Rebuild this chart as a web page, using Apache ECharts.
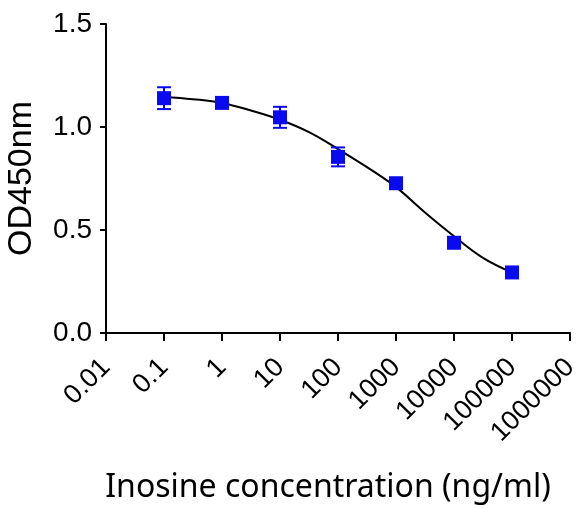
<!DOCTYPE html>
<html>
<head>
<meta charset="utf-8">
<script src="https://cdn.jsdelivr.net/npm/echarts@6/dist/echarts.min.js"></script>
<style>
  html, body { margin: 0; padding: 0; background: #fff; }
  #chart { width: 583px; height: 508px; }
</style>
</head>
<body>
<div id="chart"></div>
<script>
// measured points (mean and error)
const concentrations = [0.1, 1, 10, 100, 1000, 10000, 100000];
const odMeans = [1.14, 1.117, 1.047, 0.855, 0.727, 0.438, 0.294];
const odErrors = [0.053, 0, 0.051, 0.046, 0, 0, 0];

// fitted curve
const curveX = [0.1, 0.316, 1, 3.16, 10, 31.6, 100, 316, 1000, 3160, 10000, 31600, 100000];
const curveY = [1.146, 1.135, 1.117, 1.08, 1.035, 0.975, 0.893, 0.805, 0.708, 0.585, 0.47, 0.365, 0.294];

const xTickLabels = ['0.01', '0.1', '1', '10', '100', '1000', '10000', '100000', '1000000'];

const chart = echarts.init(document.getElementById('chart'));
const font = 'Liberation Sans, Arial, sans-serif';
const blue = '#0a0af0';

const option = {
  animation: false,
  grid: { left: 106, right: 13, top: 24, bottom: 175, containLabel: false, outerBoundsMode: 'none' },
  xAxis: {
    type: 'log',
    logBase: 10,
    min: 0.01,
    max: 1000000,
    interval: 1,
    name: 'Inosine concentration (ng/ml)',
    nameLocation: 'middle',
    nameGap: 139,
    nameTextStyle: { color: '#000', fontSize: 32, fontFamily: 'Noto Sans, sans-serif', padding: [0, 20, 0, 0] },
    axisLine: { lineStyle: { color: '#000', width: 2 } },
    axisTick: { inside: false, length: 8, lineStyle: { color: '#000', width: 2 } },
    axisLabel: {
      rotate: 45,
      margin: 30,
      color: '#000',
      fontSize: 27,
      fontFamily: font,
      formatter: function (v) {
        const i = Math.round(Math.log10(v)) + 2;
        return xTickLabels[i] || '';
      }
    },
    splitLine: { show: false }
  },
  yAxis: {
    type: 'value',
    min: 0,
    max: 1.5,
    interval: 0.5,
    name: 'OD450nm',
    nameLocation: 'middle',
    nameGap: 67,
    nameTextStyle: { color: '#000', fontSize: 34, fontFamily: font },
    axisLine: { show: true, lineStyle: { color: '#000', width: 2 } },
    axisTick: { show: true, length: 6, lineStyle: { color: '#000', width: 2 } },
    axisLabel: {
      margin: 14,
      color: '#000',
      fontSize: 28,
      fontFamily: font,
      formatter: function (v) { return v.toFixed(1); }
    },
    splitLine: { show: false }
  },
  series: [
    {
      type: 'line',
      data: curveX.map((x, i) => [x, curveY[i]]),
      smooth: 0.4,
      showSymbol: false,
      lineStyle: { color: '#000', width: 2 },
      z: 2
    },
    {
      type: 'custom',
      data: concentrations.map((x, i) => [x, odMeans[i] - odErrors[i], odMeans[i] + odErrors[i]]),
      renderItem: function (params, api) {
        if (api.value(2) - api.value(1) < 1e-6) return null;
        const lo = api.coord([api.value(0), api.value(1)]);
        const hi = api.coord([api.value(0), api.value(2)]);
        const hw = 7;
        const st = { stroke: blue, lineWidth: 2 };
        return {
          type: 'group',
          children: [
            { type: 'line', shape: { x1: lo[0], y1: lo[1], x2: hi[0], y2: hi[1] }, style: st },
            { type: 'line', shape: { x1: lo[0] - hw, y1: lo[1], x2: lo[0] + hw, y2: lo[1] }, style: st },
            { type: 'line', shape: { x1: hi[0] - hw, y1: hi[1], x2: hi[0] + hw, y2: hi[1] }, style: st }
          ]
        };
      },
      z: 3
    },
    {
      type: 'scatter',
      data: concentrations.map((x, i) => [x, odMeans[i]]),
      symbol: 'rect',
      symbolSize: 14,
      itemStyle: { color: blue, opacity: 1 },
      z: 4
    }
  ]
};

chart.setOption(option);
</script>
</body>
</html>
